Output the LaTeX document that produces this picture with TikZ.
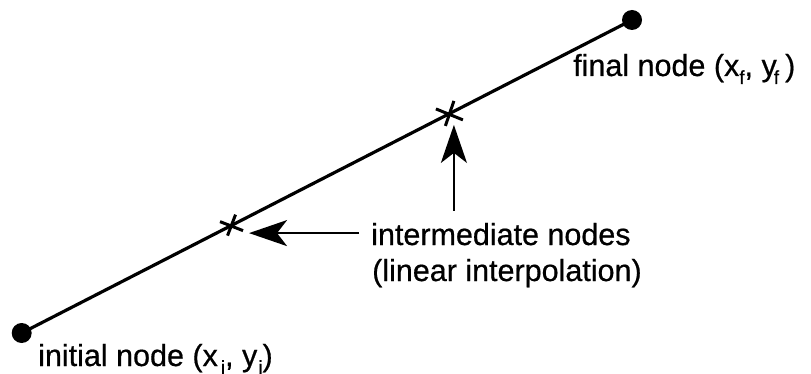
\documentclass[tikz,border=0pt]{standalone}
\usepackage{fontspec}
\setmainfont[FakeBold=0.6]{Liberation Sans}
\usetikzlibrary{arrows.meta,calc}
\newcommand{\sbs}[1]{\raisebox{-8pt}{\fontsize{19}{19}\selectfont #1}}
\begin{document}
\begin{tikzpicture}[x=1pt,y=-1pt,
  dot/.style={circle,fill=black,inner sep=0pt,minimum size=20pt},
  lbl/.style={inner sep=0pt,font=\fontsize{30.5}{35}\selectfont},
  seg/.style={line width=3.2pt},
  ptr/.style={line width=2.2pt,-{Stealth[length=38pt,width=26pt,inset=10pt]}},
  xmark/.style={line width=3pt}]
\useasboundingbox[fill=white] (0,0) rectangle (811,374);
\node[dot] (init) at (21.7,333) {};
\node[dot] (fin) at (632,20) {};
\draw[seg] (init.center) -- (fin.center);
\coordinate (c1) at ($(init.center)!0.343!(fin.center)$);
\coordinate (c2) at ($(init.center)!0.700!(fin.center)$);
% crosses
\draw[xmark] ($(c1)+(4.5,-11)$) -- ($(c1)+(-3.5,10)$);
\draw[xmark] ($(c1)+(-11,-4)$) -- ($(c1)+(12,5)$);
\draw[xmark] ($(c2)+(5,-13)$) -- ($(c2)+(-3.5,12)$);
\draw[xmark] ($(c2)+(-13,-5)$) -- ($(c2)+(14,6)$);
% labels
\node[lbl,anchor=base west] (inter1) at (371,245) {intermediate nodes};
\node[lbl,anchor=base west] (inter2) at (372,281) {(linear interpolation)};
\node[lbl,anchor=base west] (finlbl) at (573,76) {final node (x\sbs{f}, y\kern-3pt\sbs{f}\kern6pt)};
\node[lbl,anchor=base west] (initlbl) at (38,366) {initial node (x\kern3pt\sbs{i}, y\kern1pt\sbs{i})};
% arrows
\coordinate (h0) at ($(inter1.west)+(-12,-1)$);
\coordinate (h1) at ($(c1)+(18,0)$);
\draw[ptr] (h0) -- (h1 |- h0);
\coordinate (v0) at ($(c2)+(5,0)$);
\draw[ptr] (v0 |- inter1.north) ++(0,-12) -- ($(v0)+(0,11)$);
\end{tikzpicture}
\end{document}
